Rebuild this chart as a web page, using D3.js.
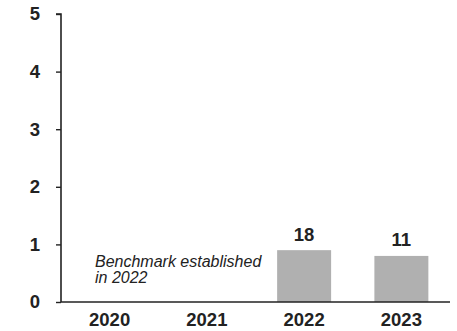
<!DOCTYPE html>
<html>
<head>
<meta charset="utf-8">
<script src="https://cdn.jsdelivr.net/npm/d3@7"></script>
<style>
  html, body { margin: 0; padding: 0; background: #fff; }
  svg { display: block; font-family: "Liberation Sans", Arial, sans-serif; }
</style>
</head>
<body>
<svg id="chart" width="457" height="331"></svg>
<script>
// Years on the x axis
const years = ["2020", "2021", "2022", "2023"];
// Bar heights on the 0–5 scale (no data before the benchmark year)
const barValues = [null, null, 0.9, 0.8];
// Counts printed above each bar
const barLabels = [null, null, "18", "11"];
// Y-axis ticks
const yTicks = [0, 1, 2, 3, 4, 5];
// Note written in the empty years
const noteLines = ["Benchmark established", "in 2022"];

const svg = d3.select("#chart");
const margin = { left: 61, right: 7, top: 14, bottom: 29 };
const W = 457, H = 331;

const x = d3.scaleBand()
  .domain(years)
  .range([margin.left, W - margin.right])
  .paddingInner(0.445)
  .paddingOuter(0.2225);

const y = d3.scaleLinear()
  .domain([0, 5])
  .range([H - margin.bottom, margin.top]);

const ink = "#222";
const fontSize = 18.5;

// Bars
const data = years.map((yr, i) => ({ yr, v: barValues[i], label: barLabels[i] }))
  .filter(d => d.v != null);

svg.append("g").selectAll("rect")
  .data(data)
  .join("rect")
  .attr("x", d => x(d.yr))
  .attr("y", d => y(d.v))
  .attr("width", x.bandwidth())
  .attr("height", d => y(0) - y(d.v))
  .attr("fill", "#b0b0b0");

// Value labels
svg.append("g").selectAll("text")
  .data(data)
  .join("text")
  .attr("x", d => x(d.yr) + x.bandwidth() / 2)
  .attr("y", d => y(d.v) - 9.5)
  .attr("text-anchor", "middle")
  .attr("font-size", fontSize)
  .attr("font-weight", "bold")
  .attr("fill", ink)
  .text(d => d.label);

// Y axis
const yAxis = svg.append("g")
  .attr("transform", `translate(${margin.left},0)`)
  .call(d3.axisLeft(y).tickValues(yTicks).tickSize(5).tickPadding(16).tickFormat(d3.format("d")));
yAxis.select(".domain").attr("stroke", ink).attr("stroke-width", 1.6).attr("d", `M-5,${y(5)}H0V${y(0)}`);
yAxis.selectAll(".tick line").attr("stroke", ink).attr("stroke-width", 1.4);
yAxis.selectAll(".tick text")
  .attr("font-size", fontSize).attr("font-weight", "bold").attr("fill", ink)
  .attr("font-family", "Liberation Sans, Arial, sans-serif");

// X axis
const xAxis = svg.append("g")
  .attr("transform", `translate(0,${y(0)})`)
  .call(d3.axisBottom(x).tickSize(0).tickPadding(11));
xAxis.select(".domain").attr("stroke", ink).attr("stroke-width", 1.6)
  .attr("d", `M${margin.left},0H${W - margin.right}`);
xAxis.selectAll(".tick text")
  .attr("font-size", fontSize).attr("font-weight", "bold").attr("fill", ink)
  .attr("font-family", "Liberation Sans, Arial, sans-serif");

// Note
svg.append("text")
  .attr("x", 95)
  .attr("y", 267)
  .attr("font-size", 16)
  .attr("font-style", "italic")
  .attr("fill", ink)
  .selectAll("tspan")
  .data(noteLines)
  .join("tspan")
  .attr("x", 95)
  .attr("dy", (d, i) => i === 0 ? 0 : 16)
  .text(d => d);
</script>
</body>
</html>
